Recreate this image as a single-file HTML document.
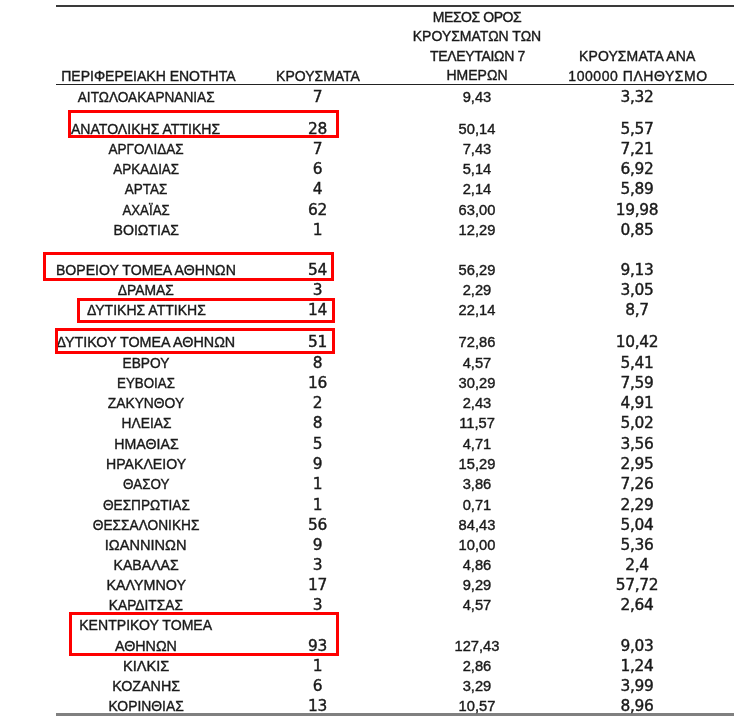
<!DOCTYPE html><html lang="el"><head><meta charset="utf-8"><title>Κρούσματα ανά περιφερειακή ενότητα</title><style>
html,body{margin:0;padding:0;background:#fff;}
body{width:734px;height:719px;position:relative;overflow:hidden;font-family:"Liberation Sans","DejaVu Sans",sans-serif;color:#1a1a1a;}
.r{position:absolute;left:0;width:734px;height:20px;line-height:20px;white-space:nowrap;font-size:0;}
.r span{display:inline-block;text-align:center;line-height:20px;vertical-align:baseline;}
.r i{display:inline-block;font-style:normal;}
.c1{width:292px;font-size:15.2px;-webkit-text-stroke:0.4px #1a1a1a;}
.c2{width:51px;font-size:15.4px;letter-spacing:-0.3px;font-family:"DejaVu Sans","Liberation Sans",sans-serif;-webkit-text-stroke:0.4px #1a1a1a;}
.c3{width:268px;font-size:14.7px;-webkit-text-stroke:0.4px #1a1a1a;}
.c4{width:52px;font-size:15.4px;letter-spacing:-0.3px;font-family:"DejaVu Sans","Liberation Sans",sans-serif;-webkit-text-stroke:0.4px #1a1a1a;}
.t{position:absolute;white-space:nowrap;transform:translate(-50%,-50%);line-height:1;}
.h{font-size:14px;-webkit-text-stroke:0.38px #1a1a1a;}
.ln{position:absolute;}
.rb{position:absolute;border:3px solid #fe0000;box-sizing:border-box;}
</style></head><body>
<div class="ln" style="left:55.5px;top:4.7px;width:679px;height:2.1px;background:#3a3a3a"></div>
<div class="ln" style="left:55.5px;top:83.7px;width:679px;height:1.8px;background:#222"></div>
<div class="ln" style="left:55.5px;top:713px;width:679px;height:3.2px;background:#808080"></div>
<div class="t h" style="left:148.4px;top:75.5px;">ΠΕΡΙΦΕΡΕΙΑΚΗ ΕΝΟΤΗΤΑ</div>
<div class="t h" style="left:318px;top:76px;">ΚΡΟΥΣΜΑΤΑ</div>
<div class="t h" style="left:477px;top:17.3px;letter-spacing:-0.45px">ΜΕΣΟΣ ΟΡΟΣ</div>
<div class="t h" style="left:477px;top:36px;">ΚΡΟΥΣΜΑΤΩΝ ΤΩΝ</div>
<div class="t h" style="left:477.5px;top:56px;letter-spacing:-0.33px">ΤΕΛΕΥΤΑΙΩΝ 7</div>
<div class="t h" style="left:477px;top:75px;">ΗΜΕΡΩΝ</div>
<div class="t h" style="left:637.2px;top:56px;letter-spacing:0.1px">ΚΡΟΥΣΜΑΤΑ ΑΝΑ</div>
<div class="t h" style="left:638px;top:75.7px;letter-spacing:0.55px">100000 ΠΛΗΘΥΣΜΟ</div>
<div class="r" style="top:86.6px"><span class="c1"><i style="transform:scaleX(0.898)">ΑΙΤΩΛΟΑΚΑΡΝΑΝΙΑΣ</i></span><span class="c2">7</span><span class="c3">9,43</span><span class="c4">3,32</span></div>
<div class="r" style="top:118.7px"><span class="c1"><i style="transform:scaleX(0.926)">ΑΝΑΤΟΛΙΚΗΣ ΑΤΤΙΚΗΣ</i></span><span class="c2">28</span><span class="c3">50,14</span><span class="c4">5,57</span></div>
<div class="r" style="top:139.1px"><span class="c1"><i style="transform:scaleX(0.892)">ΑΡΓΟΛΙΔΑΣ</i></span><span class="c2">7</span><span class="c3">7,43</span><span class="c4">7,21</span></div>
<div class="r" style="top:159.2px"><span class="c1"><i style="transform:scaleX(0.886)">ΑΡΚΑΔΙΑΣ</i></span><span class="c2">6</span><span class="c3">5,14</span><span class="c4">6,92</span></div>
<div class="r" style="top:179.4px"><span class="c1"><i style="transform:scaleX(0.889)">ΑΡΤΑΣ</i></span><span class="c2">4</span><span class="c3">2,14</span><span class="c4">5,89</span></div>
<div class="r" style="top:199.5px"><span class="c1"><i style="transform:scaleX(0.873)">ΑΧΑΪΑΣ</i></span><span class="c2">62</span><span class="c3">63,00</span><span class="c4">19,98</span></div>
<div class="r" style="top:219.5px"><span class="c1"><i style="transform:scaleX(0.928)">ΒΟΙΩΤΙΑΣ</i></span><span class="c2">1</span><span class="c3">12,29</span><span class="c4">0,85</span></div>
<div class="r" style="top:259.5px"><span class="c1"><i style="transform:scaleX(0.929)">ΒΟΡΕΙΟΥ ΤΟΜΕΑ ΑΘΗΝΩΝ</i></span><span class="c2">54</span><span class="c3">56,29</span><span class="c4">9,13</span></div>
<div class="r" style="top:279.7px"><span class="c1"><i style="transform:scaleX(0.913)">ΔΡΑΜΑΣ</i></span><span class="c2">3</span><span class="c3">2,29</span><span class="c4">3,05</span></div>
<div class="r" style="top:299.9px"><span class="c1"><i style="transform:scaleX(0.924)">ΔΥΤΙΚΗΣ ΑΤΤΙΚΗΣ</i></span><span class="c2">14</span><span class="c3">22,14</span><span class="c4">8,7</span></div>
<div class="r" style="top:332.3px"><span class="c1"><i style="transform:scaleX(0.943)">ΔΥΤΙΚΟΥ ΤΟΜΕΑ ΑΘΗΝΩΝ</i></span><span class="c2">51</span><span class="c3">72,86</span><span class="c4">10,42</span></div>
<div class="r" style="top:352.9px"><span class="c1"><i style="transform:scaleX(0.904)">ΕΒΡΟΥ</i></span><span class="c2">8</span><span class="c3">4,57</span><span class="c4">5,41</span></div>
<div class="r" style="top:373.09px"><span class="c1"><i style="transform:scaleX(0.878)">ΕΥΒΟΙΑΣ</i></span><span class="c2">16</span><span class="c3">30,29</span><span class="c4">7,59</span></div>
<div class="r" style="top:393.28px"><span class="c1"><i style="transform:scaleX(0.911)">ΖΑΚΥΝΘΟΥ</i></span><span class="c2">2</span><span class="c3">2,43</span><span class="c4">4,91</span></div>
<div class="r" style="top:413.47px"><span class="c1"><i style="transform:scaleX(0.906)">ΗΛΕΙΑΣ</i></span><span class="c2">8</span><span class="c3">11,57</span><span class="c4">5,02</span></div>
<div class="r" style="top:433.66px"><span class="c1"><i style="transform:scaleX(0.933)">ΗΜΑΘΙΑΣ</i></span><span class="c2">5</span><span class="c3">4,71</span><span class="c4">3,56</span></div>
<div class="r" style="top:453.85px"><span class="c1"><i style="transform:scaleX(0.929)">ΗΡΑΚΛΕΙΟΥ</i></span><span class="c2">9</span><span class="c3">15,29</span><span class="c4">2,95</span></div>
<div class="r" style="top:474.04px"><span class="c1"><i style="transform:scaleX(0.885)">ΘΑΣΟΥ</i></span><span class="c2">1</span><span class="c3">3,86</span><span class="c4">7,26</span></div>
<div class="r" style="top:494.63px"><span class="c1"><i style="transform:scaleX(0.898)">ΘΕΣΠΡΩΤΙΑΣ</i></span><span class="c2">1</span><span class="c3">0,71</span><span class="c4">2,29</span></div>
<div class="r" style="top:514.82px"><span class="c1"><i style="transform:scaleX(0.903)">ΘΕΣΣΑΛΟΝΙΚΗΣ</i></span><span class="c2">56</span><span class="c3">84,43</span><span class="c4">5,04</span></div>
<div class="r" style="top:534.61px"><span class="c1"><i style="transform:scaleX(0.96)">ΙΩΑΝΝΙΝΩΝ</i></span><span class="c2">9</span><span class="c3">10,00</span><span class="c4">5,36</span></div>
<div class="r" style="top:554.8px"><span class="c1"><i style="transform:scaleX(0.928)">ΚΑΒΑΛΑΣ</i></span><span class="c2">3</span><span class="c3">4,86</span><span class="c4">2,4</span></div>
<div class="r" style="top:574.99px"><span class="c1"><i style="transform:scaleX(0.941)">ΚΑΛΥΜΝΟΥ</i></span><span class="c2">17</span><span class="c3">9,29</span><span class="c4">57,72</span></div>
<div class="r" style="top:595.18px"><span class="c1"><i style="transform:scaleX(0.907)">ΚΑΡΔΙΤΣΑΣ</i></span><span class="c2">3</span><span class="c3">4,57</span><span class="c4">2,64</span></div>
<div class="r" style="top:615.37px"><span class="c1"><i style="transform:scaleX(0.927)">ΚΕΝΤΡΙΚΟΥ ΤΟΜΕΑ</i></span><span class="c2"></span><span class="c3"></span><span class="c4"></span></div>
<div class="r" style="top:635.56px"><span class="c1"><i style="transform:scaleX(0.941)">ΑΘΗΝΩΝ</i></span><span class="c2">93</span><span class="c3">127,43</span><span class="c4">9,03</span></div>
<div class="r" style="top:655.75px"><span class="c1"><i style="transform:scaleX(0.962)">ΚΙΛΚΙΣ</i></span><span class="c2">1</span><span class="c3">2,86</span><span class="c4">1,24</span></div>
<div class="r" style="top:675.94px"><span class="c1"><i style="transform:scaleX(0.941)">ΚΟΖΑΝΗΣ</i></span><span class="c2">6</span><span class="c3">3,29</span><span class="c4">3,99</span></div>
<div class="r" style="top:696.13px"><span class="c1"><i style="transform:scaleX(0.914)">ΚΟΡΙΝΘΙΑΣ</i></span><span class="c2">13</span><span class="c3">10,57</span><span class="c4">8,96</span></div>
<div class="rb" style="left:68px;top:110px;width:271.2px;height:28.2px"></div>
<div class="rb" style="left:43px;top:252.2px;width:290.8px;height:28.4px"></div>
<div class="rb" style="left:76.7px;top:298.4px;width:258.8px;height:25.1px"></div>
<div class="rb" style="left:54.7px;top:328px;width:280.8px;height:25.9px"></div>
<div class="rb" style="left:68.8px;top:611.7px;width:270.7px;height:44px"></div>
</body></html>
